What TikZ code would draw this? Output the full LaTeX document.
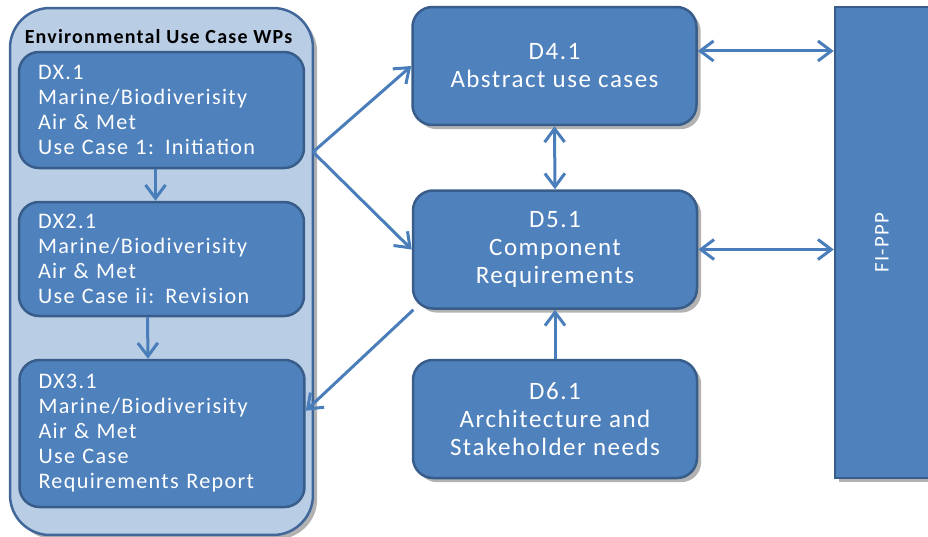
\documentclass[tikz,border=0pt]{standalone}
\usepackage{fontspec}
\setmainfont{Carlito}[LetterSpace=6]
\usetikzlibrary{arrows.meta,shadows}

\definecolor{boxblue}{HTML}{4F81BD}
\definecolor{boxline}{HTML}{385D8A}
\definecolor{wpfill}{HTML}{B9CDE5}
\definecolor{wpline}{HTML}{41679A}
\definecolor{arrowblue}{HTML}{4A7EBB}

\tikzset{
    softshadow/.style={drop shadow={shadow xshift=2.5pt, shadow yshift=-2.5pt, opacity=0.3, fill=black}},
    wpbox/.style={draw=wpline, line width=1.5pt, fill=wpfill, rounded corners=24pt, softshadow},
    dxbox/.style={draw=boxline, line width=1.5pt, fill=boxblue, rounded corners=12pt, text=white,
        align=left, text width=148.2pt, inner xsep=11.4pt, minimum width=171pt,
        font=\fontsize{13.3}{15}\selectfont},
    dbox/.style={draw=boxline, line width=1.5pt, fill=boxblue, rounded corners=12pt, text=white,
        align=center, minimum width=170.4pt, minimum height=70.8pt, softshadow,
        font=\fontsize{15}{16.8}\selectfont},
    fibox/.style={draw=boxline, line width=1.5pt, fill=boxblue, text=white, softshadow,
        font=\fontsize{12.5}{15}\selectfont},
    tip/.style={arrowblue, line width=1.8pt, -{Straight Barb[length=8pt, width=12pt, line width=1.8pt]}},
    tips/.style={arrowblue, line width=1.8pt, {Straight Barb[length=8pt, width=12pt, line width=1.8pt]}-{Straight Barb[length=8pt, width=12pt, line width=1.8pt]}}
}

\begin{document}
\begin{tikzpicture}[x=0.6pt, y=-0.6pt]
    \useasboundingbox ( 0, 0 ) rectangle ( 928, 537 );
    \clip ( 0, 0 ) rectangle ( 928, 537 );

    % рабочие пакеты
    \node [wpbox, minimum width=181.8pt, minimum height=316.2pt] (wps) at ( 161.5, 271.5 ) {};
    \node [font=\fontsize{12}{14}\selectfont\bfseries] (title) at ( 158.5, 37 ) {Environmental Use Case WPs};

    \node [dxbox, minimum height=69.6pt] (dx1) at ( 161.5, 110 )
        {DX.1\\Marine/Biodiverisity\\Air \& Met\\Use Case 1: Initiation};
    \node [dxbox, minimum height=68.4pt] (dx2) at ( 161.5, 259 )
        {DX2.1\\Marine/Biodiverisity\\Air \& Met\\Use Case ii: Revision};
    \node [dxbox, minimum height=88.2pt] (dx3) at ( 162, 433.5 )
        {DX3.1\\Marine/Biodiverisity\\Air \& Met\\Use Case\\Requirements Report};

    % результаты
    \node [dbox] (d4) at ( 554.5, 66 ) {D4.1\\Abstract use cases};
    \node [dbox] (d5) at ( 555, 249.5 ) {D5.1\\Component\\Requirements};
    \node [dbox] (d6) at ( 555, 419 ) {D6.1\\Architecture and\\Stakeholder needs};

    \node [fibox, rotate=90, minimum width=282.6pt, minimum height=56.4pt] (fi) at ( 882, 242.5 ) {FI-PPP};

    % стрелки
    \coordinate (fork) at ( 313, 152 );
    \draw [tip] ([xshift=-3.6pt]dx1.south) -- ([xshift=-3.6pt]dx2.north);
    \draw [tip] ([xshift=-8.4pt]dx2.south) -- ([xshift=-8.4pt]dx3.north);
    \draw [tip] (fork) -- (d4.west);
    \draw [tip] (fork) -- (d5.west);
    \draw [tip] ([xshift=1pt]d5.south west) -- (dx3.9);
    \draw [tips] (d4.6) -- (d4.6 -| fi.north);
    \draw [tips] (d5.east) -- (d5.east -| fi.north);
    \draw [tips] (d4.south) -- (d5.north);
    \draw [tip] (d6.north) -- (d5.south);
\end{tikzpicture}
\end{document}
